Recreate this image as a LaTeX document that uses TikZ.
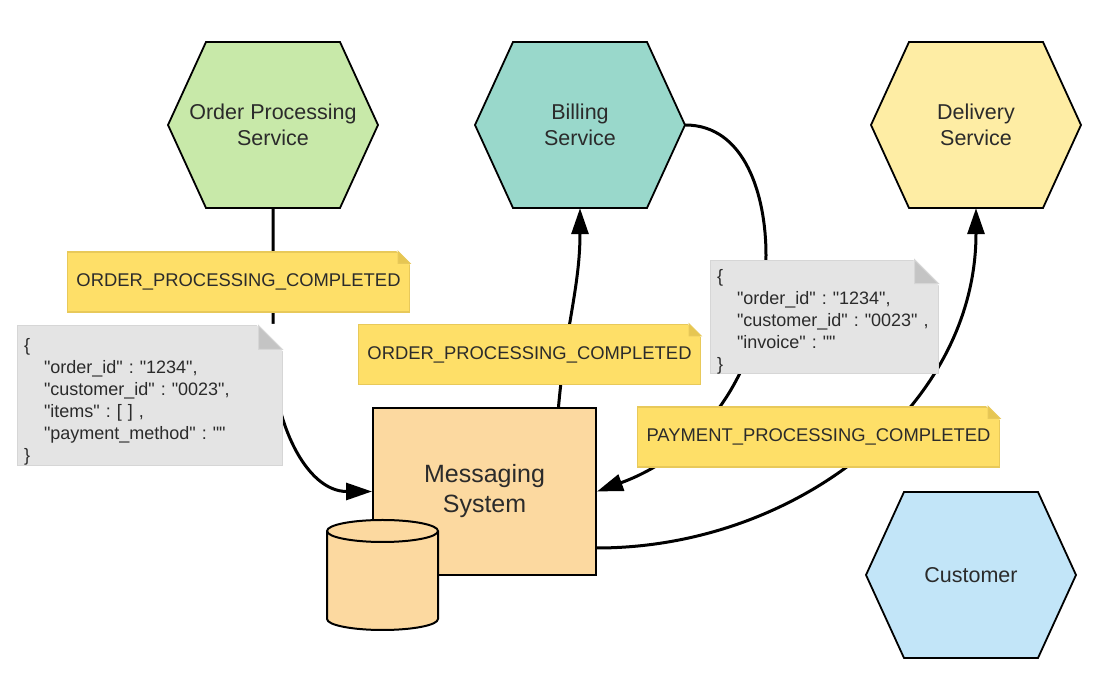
\documentclass[tikz,border=0pt]{standalone}
\usepackage{fontspec}
\setmainfont{Liberation Sans}[Ligatures=TeXOff]
\usetikzlibrary{arrows.meta, positioning}

\definecolor{opsgreen}{HTML}{C8E9A9}
\definecolor{billteal}{HTML}{99D8CB}
\definecolor{delivyellow}{HTML}{FEEDA4}
\definecolor{custblue}{HTML}{C2E5F8}
\definecolor{msgorange}{HTML}{FCD9A0}
\definecolor{tagyellow}{HTML}{FEDF68}
\definecolor{tagedge}{HTML}{E8C95A}
\definecolor{tagfold}{HTML}{E6C652}
\definecolor{jsongray}{HTML}{E4E4E4}
\definecolor{jsonedge}{HTML}{D6D6D6}
\definecolor{jsonfold}{HTML}{C4C4C4}
\definecolor{inktext}{HTML}{2B2B2B}

\begin{document}
\begin{tikzpicture}[x=1pt, y=1pt, >={Triangle[length=26pt,width=17pt]},
    hextext/.style={minimum width=210pt, minimum height=166pt, inner sep=0pt, align=center, text=inktext, font=\fontsize{21.5}{26}\selectfont},
    hexline/.style={draw=black, line width=1.8pt, line join=miter},
    msgbox/.style={fill=msgorange, draw=black, line width=2pt, minimum width=223pt, minimum height=167pt, inner sep=0pt, align=center, text=inktext, font=\fontsize{25}{30}\selectfont},
    flow/.style={draw=black, line width=3pt},
    tag/.style={fill=tagyellow, draw=tagedge, line width=1.2pt, minimum height=60pt, inner xsep=9pt, text=inktext, font=\fontsize{18.4}{22}\selectfont},
    json/.style={fill=jsongray, draw=jsonedge, line width=1pt, inner xsep=7pt, inner ysep=0pt, align=left, text=inktext, font=\fontsize{18}{22}\selectfont\frenchspacing}]
    % Define parameters
    \def\hexhalfw{105}
    \def\hexhalfh{83}
    \def\hexinset{38}
    \def\tagfoldsize{12pt}
    \def\jsonfoldsize{24pt}

    \useasboundingbox (0,0) rectangle (1093,692);

    % Service hexagons
    \foreach \name/\cx/\cy/\col/\txt in {ops/273/567/opsgreen/{Order Processing\\Service}, bill/580/567/billteal/{Billing\\Service}, deliv/976/567/delivyellow/{Delivery\\Service}, cust/971/117/custblue/Customer} {
        \filldraw[hexline, fill=\col] (\cx-\hexhalfw,\cy) -- (\cx-\hexhalfw+\hexinset,\cy+\hexhalfh) -- (\cx+\hexhalfw-\hexinset,\cy+\hexhalfh) -- (\cx+\hexhalfw,\cy) -- (\cx+\hexhalfw-\hexinset,\cy-\hexhalfh) -- (\cx-\hexhalfw+\hexinset,\cy-\hexhalfh) -- cycle;
        \node[hextext] (\name) at (\cx,\cy) {\txt};
    }

    % Messaging system and its store
    \node[msgbox] (msg) at (484.5,200.5) {Messaging\\System};
    \filldraw[fill=msgorange, draw=black, line width=2pt] (327,161) -- (327,73) arc[start angle=180, end angle=360, x radius=55.5pt, y radius=11pt] -- (438,161) arc[start angle=0, end angle=180, x radius=55.5pt, y radius=11pt] -- cycle;
    \draw[line width=2pt] (327,161) arc[start angle=180, end angle=360, x radius=55.5pt, y radius=11pt];

    % Event flows
    \coordinate (billbend) at (766,437);
    \draw[flow, ->] (ops.south) -- ++(0,-147) to[out=-90, in=180] (msg.west);
    \draw[flow, ->] ([xshift=74pt]msg.north) to[out=85, in=-90] (bill.south);
    \draw[flow, ->] (bill.east) to[out=0, in=90] (billbend) to[out=-90, in=20] (msg.east);
    \draw[flow, ->] ([yshift=-56.5pt]msg.east) to[out=0, in=-90] (deliv.south);

    % Event tags
    \node[tag] (opsdone) at (238.5,410) {ORDER\_PROCESSING\_COMPLETED};
    \node[tag] (billdone) at (529.5,337.5) {ORDER\_PROCESSING\_COMPLETED};
    \node[tag] (paydone) at (818.5,255) {PAYMENT\_PROCESSING\_COMPLETED};

    % Payloads
    \node[json, text width=251pt, minimum height=140pt] (opsjson) at (149.5,296) {\rule{0pt}{24pt}\{\\
        \hspace*{20pt}"order\_id" : "1234",\\
        \hspace*{20pt}"customer\_id" : "0023",\\
        \hspace*{20pt}"items" : [ ] ,\\
        \hspace*{20pt}"payment\_method" : ""\\
        \}};
    \node[json, text width=214pt, minimum height=112pt] (billjson) at (824,375) {\rule{0pt}{22pt}\{\\
        \hspace*{20pt}"order\_id" : "1234",\\
        \hspace*{20pt}"customer\_id" : "0023" ,\\
        \hspace*{20pt}"invoice" : ""\\
        \}};

    % Folded corners
    \foreach \n/\f/\c/\e in {opsdone/\tagfoldsize/tagfold/tagedge, billdone/\tagfoldsize/tagfold/tagedge, paydone/\tagfoldsize/tagfold/tagedge, opsjson/\jsonfoldsize/jsonfold/jsonedge, billjson/\jsonfoldsize/jsonfold/jsonedge} {
        \filldraw[white, line width=2pt] ([xshift=-\f]\n.north east) -- ([shift={(1pt,1pt)}]\n.north east) -- ([yshift=-\f]\n.north east) -- cycle;
        \filldraw[fill=\c, draw=\e, line width=1pt] ([xshift=-\f]\n.north east) -- ([xshift=-\f, yshift=-\f]\n.north east) -- ([yshift=-\f]\n.north east) -- cycle;
    }
\end{tikzpicture}
\end{document}
